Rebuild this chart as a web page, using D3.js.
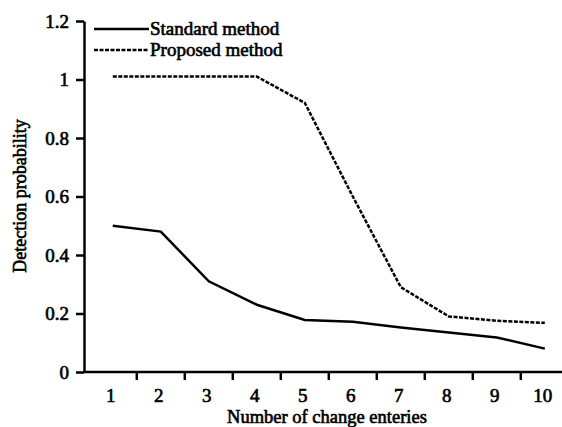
<!DOCTYPE html>
<html><head><meta charset="utf-8">
<script src="https://cdn.jsdelivr.net/npm/d3@7"></script>
<style>body{margin:0;background:#fff}svg{display:block}text{font-family:"Liberation Serif","Times New Roman",serif;fill:#000;stroke:#000;stroke-width:0.65px}</style>
</head><body>
<script>
const categories = [1,2,3,4,5,6,7,8,9,10];
const standardMethod = [0.5,0.48,0.31,0.23,0.178,0.172,0.152,0.135,0.118,0.08];
const proposedMethod = [1.01,1.01,1.01,1.01,0.92,0.6,0.29,0.19,0.175,0.168];
const yTicks = [0,0.2,0.4,0.6,0.8,1,1.2];
const seriesNames = ["Standard method","Proposed method"];

const W=562,H=427;
const svg=d3.select("body").append("svg").attr("width",W).attr("height",H);
const x=d3.scaleLinear().domain([0.4,10.4]).range([84,564]);
const y=d3.scaleLinear().domain([0,1.2]).range([372,21]);

// y axis
const ya=svg.append("g").attr("transform","translate(84,0)")
  .call(d3.axisLeft(y).tickValues(yTicks).tickFormat(d=>String(d)).tickSize(8).tickSizeOuter(0));
ya.attr("font-family",null);
ya.select(".domain").attr("stroke","#000").attr("stroke-width",2.5);
ya.selectAll(".tick line").attr("stroke","#000").attr("stroke-width",2.5);
ya.selectAll(".tick text").attr("font-size",19).attr("x",-15);

// x axis
const xa=svg.append("g").attr("transform","translate(0,372)");
xa.append("line").attr("x1",x(0.4)-1).attr("x2",W).attr("stroke","#000").attr("stroke-width",2.5);
xa.selectAll("line.t").data(categories.slice(0,9)).join("line").attr("class","t")
  .attr("x1",d=>x(d+0.5)).attr("x2",d=>x(d+0.5)).attr("y1",0).attr("y2",8).attr("stroke","#000").attr("stroke-width",2.5);
xa.selectAll("text").data(categories).join("text")
  .attr("x",d=>x(d)-2).attr("y",30).attr("text-anchor","middle").attr("font-size",19).text(d=>d);

// titles
svg.append("text").attr("x",327).attr("y",423).attr("text-anchor","middle").attr("font-size",18.5).text("Number of change enteries");
svg.append("text").attr("transform","translate(26,196) rotate(-90)").attr("text-anchor","middle").attr("font-size",18).text("Detection probability");

// lines
const line=d3.line().x((d,i)=>x(categories[i])).y(d=>y(d));
svg.append("path").datum(standardMethod).attr("d",line).attr("fill","none").attr("stroke","#000").attr("stroke-width",2.5);
svg.append("path").datum(proposedMethod).attr("d",line).attr("fill","none").attr("stroke","#000").attr("stroke-width",2.5).attr("stroke-dasharray","4,1.5");

// legend
const lg=svg.append("g");
[0,1].forEach(i=>{
  const yy=29+i*21;
  lg.append("line").attr("x1",94).attr("x2",149).attr("y1",yy).attr("y2",yy).attr("stroke","#000").attr("stroke-width",2.5)
    .attr("stroke-dasharray",i?"4,1.5":null);
  lg.append("text").attr("x",150).attr("y",yy+6).attr("font-size",19).text(seriesNames[i]);
});
</script>
</body></html>
